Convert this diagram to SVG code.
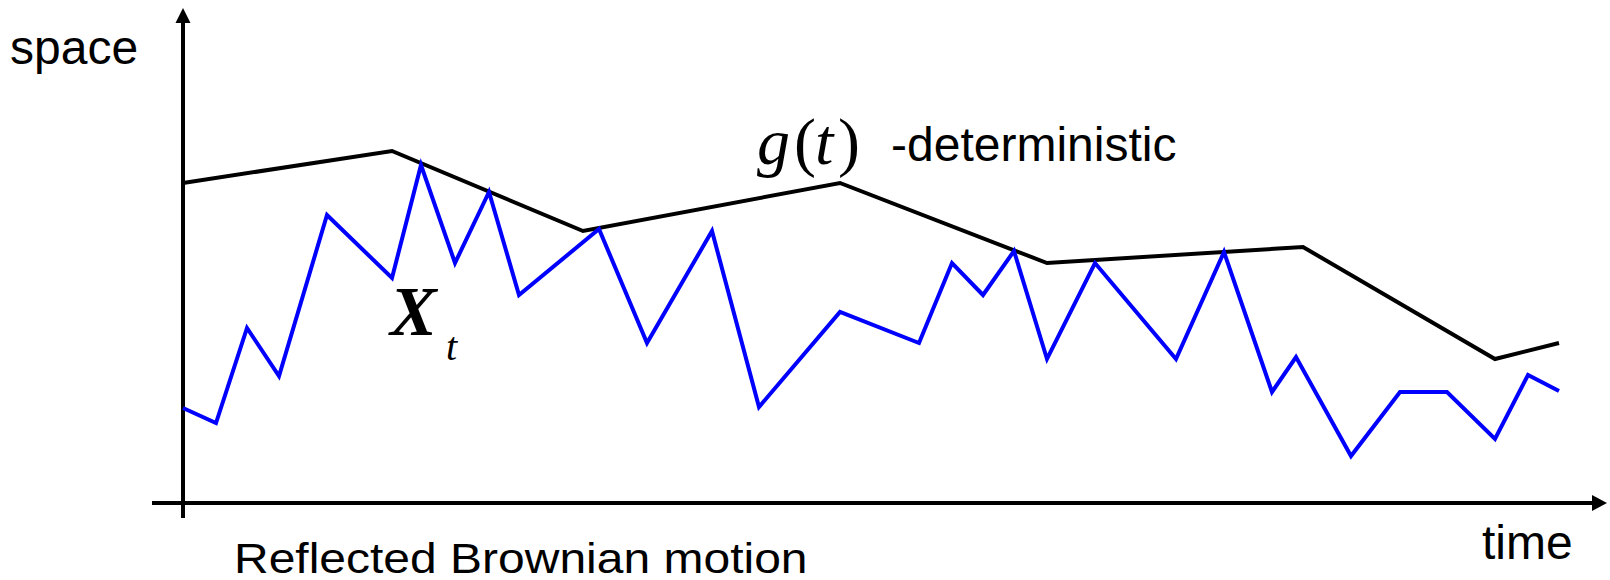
<svg xmlns="http://www.w3.org/2000/svg" width="1610" height="580" viewBox="0 0 1610 580">
<style>
.lab{font-family:"Liberation Sans",Arial,sans-serif;font-size:48px;fill:#000}
.math{font-family:"Liberation Serif","Times New Roman",serif;fill:#000}
.axis{stroke:#000;stroke-width:4;fill:none}
.g{stroke:#000;stroke-width:4;fill:none;stroke-linejoin:miter}
.x{stroke:#0000FF;stroke-width:4;fill:none;stroke-linejoin:miter}
</style>
<rect width="1610" height="580" fill="#fff"/>
<g id="connectors">
  <line class="axis" x1="183" y1="518" x2="183" y2="22"/>
  <polygon points="183,8 175.5,23 190.5,23" fill="#000"/>
  <line class="axis" x1="152" y1="503" x2="1593" y2="503"/>
  <polygon points="1607,503 1592,495 1592,511" fill="#000"/>
</g>
<g id="g-curve">
  <polyline class="g" points="183,183 392,151 583,231 840,183 1047,263 1303,247 1495,359 1559,343"/>
</g>
<g id="x-curve">
  <polyline class="x" points="183,408 216,423 247,328 279,376 327,215 392,278 421,165 455,263 489,192 519,295 599,229 647,343 712,231 759,407 840,312 919,343 952,263 983,295 1014,251 1047,359 1095,263 1176,359 1224,252 1272,392 1296,357 1351,456 1400,392 1447,392 1495,439 1528,375 1559,391"/>
</g>
<g id="label-space"><text class="lab" x="10" y="64">space</text></g>
<g id="label-time"><text class="lab" x="1482" y="559">time</text></g>
<g id="label-title"><text class="lab" transform="translate(234,573) scale(1,0.9)" x="0" y="0">Reflected Brownian motion</text></g>
<g id="label-g">
  <text class="math" font-size="66" font-style="italic" x="757" y="164">g</text>
  <text class="math" font-size="66" x="794" y="164">(</text>
  <text class="math" font-size="66" font-style="italic" x="815" y="164">t</text>
  <text class="math" font-size="66" x="838" y="164">)</text>
  <text class="lab" x="891" y="161">-deterministic</text>
</g>
<g id="label-X">
  <text class="math" font-size="70" font-style="italic" font-weight="bold" x="390" y="335">X</text>
  <text class="math" font-size="40" font-style="italic" x="446" y="360">t</text>
</g>
</svg>
